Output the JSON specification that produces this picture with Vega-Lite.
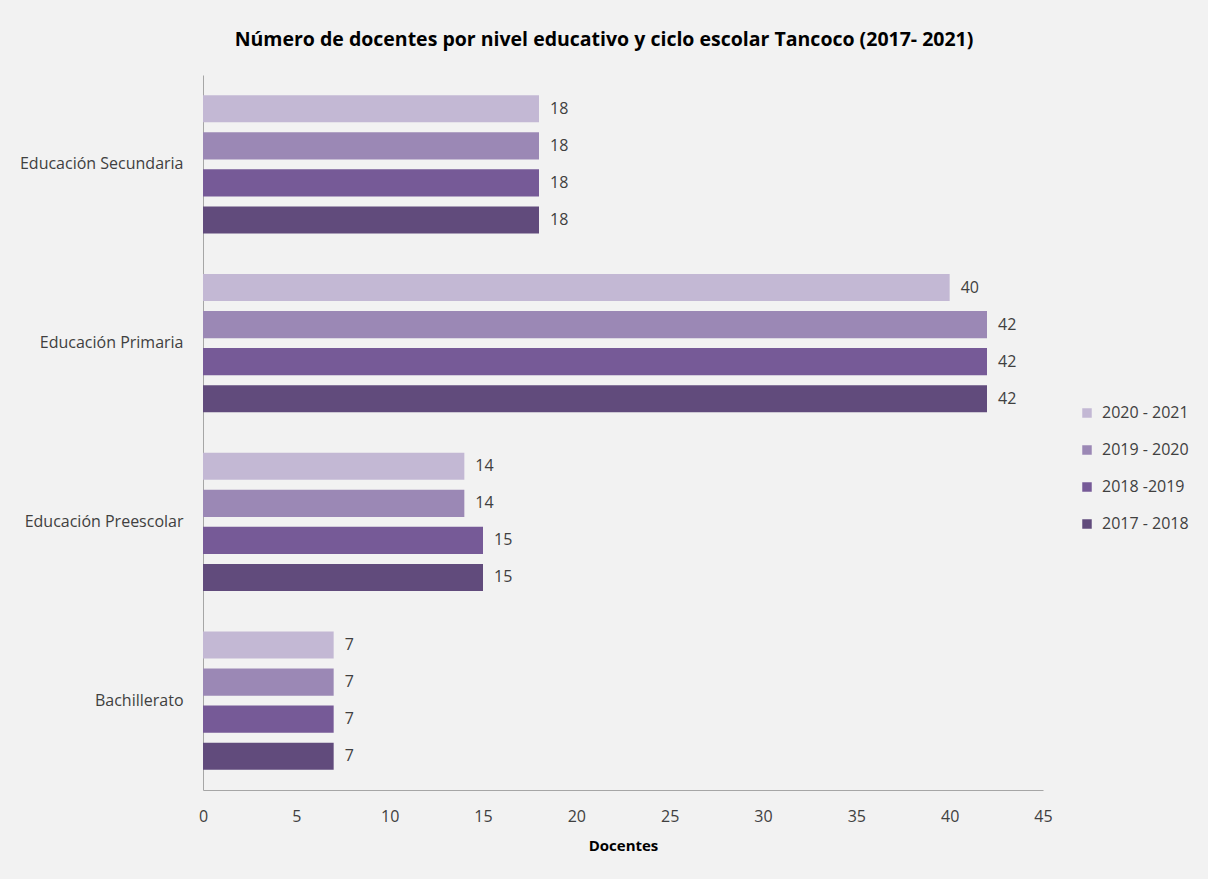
{
  "$schema": "https://vega.github.io/schema/vega-lite/v6.json",
  "width": 840,
  "height": 715,
  "autosize": {"type": "none"},
  "padding": {"left": 203, "top": 75, "right": 165, "bottom": 89},
  "background": "#f2f2f2",
  "title": {
    "text": "Número de docentes por nivel educativo y ciclo escolar Tancoco (2017- 2021)",
    "font": "Open Sans",
    "fontSize": 19.5,
    "fontWeight": "bold",
    "color": "#000000",
    "anchor": "middle",
    "dx": -19,
    "offset": 25
  },
  "config": {
    "view": {"stroke": null},
    "font": "Open Sans"
  },
  "data": {
    "values": [
      {"nivel": "Educación Secundaria", "ciclo": "2020 - 2021", "docentes": 18},
      {"nivel": "Educación Secundaria", "ciclo": "2019 - 2020", "docentes": 18},
      {"nivel": "Educación Secundaria", "ciclo": "2018 -2019", "docentes": 18},
      {"nivel": "Educación Secundaria", "ciclo": "2017 - 2018", "docentes": 18},
      {"nivel": "Educación Primaria", "ciclo": "2020 - 2021", "docentes": 40},
      {"nivel": "Educación Primaria", "ciclo": "2019 - 2020", "docentes": 42},
      {"nivel": "Educación Primaria", "ciclo": "2018 -2019", "docentes": 42},
      {"nivel": "Educación Primaria", "ciclo": "2017 - 2018", "docentes": 42},
      {"nivel": "Educación Preescolar", "ciclo": "2020 - 2021", "docentes": 14},
      {"nivel": "Educación Preescolar", "ciclo": "2019 - 2020", "docentes": 14},
      {"nivel": "Educación Preescolar", "ciclo": "2018 -2019", "docentes": 15},
      {"nivel": "Educación Preescolar", "ciclo": "2017 - 2018", "docentes": 15},
      {"nivel": "Bachillerato", "ciclo": "2020 - 2021", "docentes": 7},
      {"nivel": "Bachillerato", "ciclo": "2019 - 2020", "docentes": 7},
      {"nivel": "Bachillerato", "ciclo": "2018 -2019", "docentes": 7},
      {"nivel": "Bachillerato", "ciclo": "2017 - 2018", "docentes": 7}
    ]
  },
  "encoding": {
    "y": {
      "field": "nivel",
      "type": "nominal",
      "sort": ["Educación Secundaria", "Educación Primaria", "Educación Preescolar", "Bachillerato"],
      "scale": {"paddingInner": 0, "paddingOuter": 0},
      "axis": {
        "title": null,
        "ticks": false,
        "labelPadding": 20,
        "labelFontSize": 16,
        "labelColor": "#404040",
        "labelFont": "Open Sans",
        "domainColor": "#a6a6a6",
        "grid": false
      }
    },
    "yOffset": {
      "field": "ciclo",
      "type": "nominal",
      "scale": {
        "domain": ["2020 - 2021", "2019 - 2020", "2018 -2019", "2017 - 2018"],
        "paddingInner": 0.27,
        "paddingOuter": 0.55
      }
    },
    "x": {
      "field": "docentes",
      "type": "quantitative",
      "scale": {"domain": [0, 45], "nice": false},
      "axis": {
        "title": "Docentes",
        "titleFont": "Open Sans",
        "titleFontSize": 15,
        "titleFontWeight": "bold",
        "titleColor": "#000000",
        "titlePadding": 14,
        "values": [0, 5, 10, 15, 20, 25, 30, 35, 40, 45],
        "ticks": false,
        "labelFlush": false,
        "labelPadding": 18,
        "labelFontSize": 16,
        "labelFont": "Open Sans",
        "labelColor": "#404040",
        "domainColor": "#a6a6a6",
        "grid": false
      }
    }
  },
  "layer": [
    {
      "mark": {"type": "bar"},
      "encoding": {
        "color": {
          "field": "ciclo",
          "type": "nominal",
          "scale": {
            "domain": ["2020 - 2021", "2019 - 2020", "2018 -2019", "2017 - 2018"],
            "range": ["#c3b8d4", "#9b88b5", "#765a97", "#614b7c"]
          },
          "legend": {
            "title": null,
            "orient": "none",
            "legendX": 876,
            "legendY": 330,
            "symbolType": "square",
            "symbolSize": 90,
            "symbolStrokeWidth": 0,
            "labelFontSize": 16,
            "labelColor": "#404040",
            "labelFont": "Open Sans",
            "rowPadding": 21,
            "labelOffset": 7
          }
        }
      }
    },
    {
      "mark": {"type": "text", "align": "left", "baseline": "middle", "dx": 11, "fontSize": 16, "font": "Open Sans", "color": "#404040"},
      "encoding": {
        "text": {"field": "docentes", "type": "quantitative"}
      }
    }
  ]
}
